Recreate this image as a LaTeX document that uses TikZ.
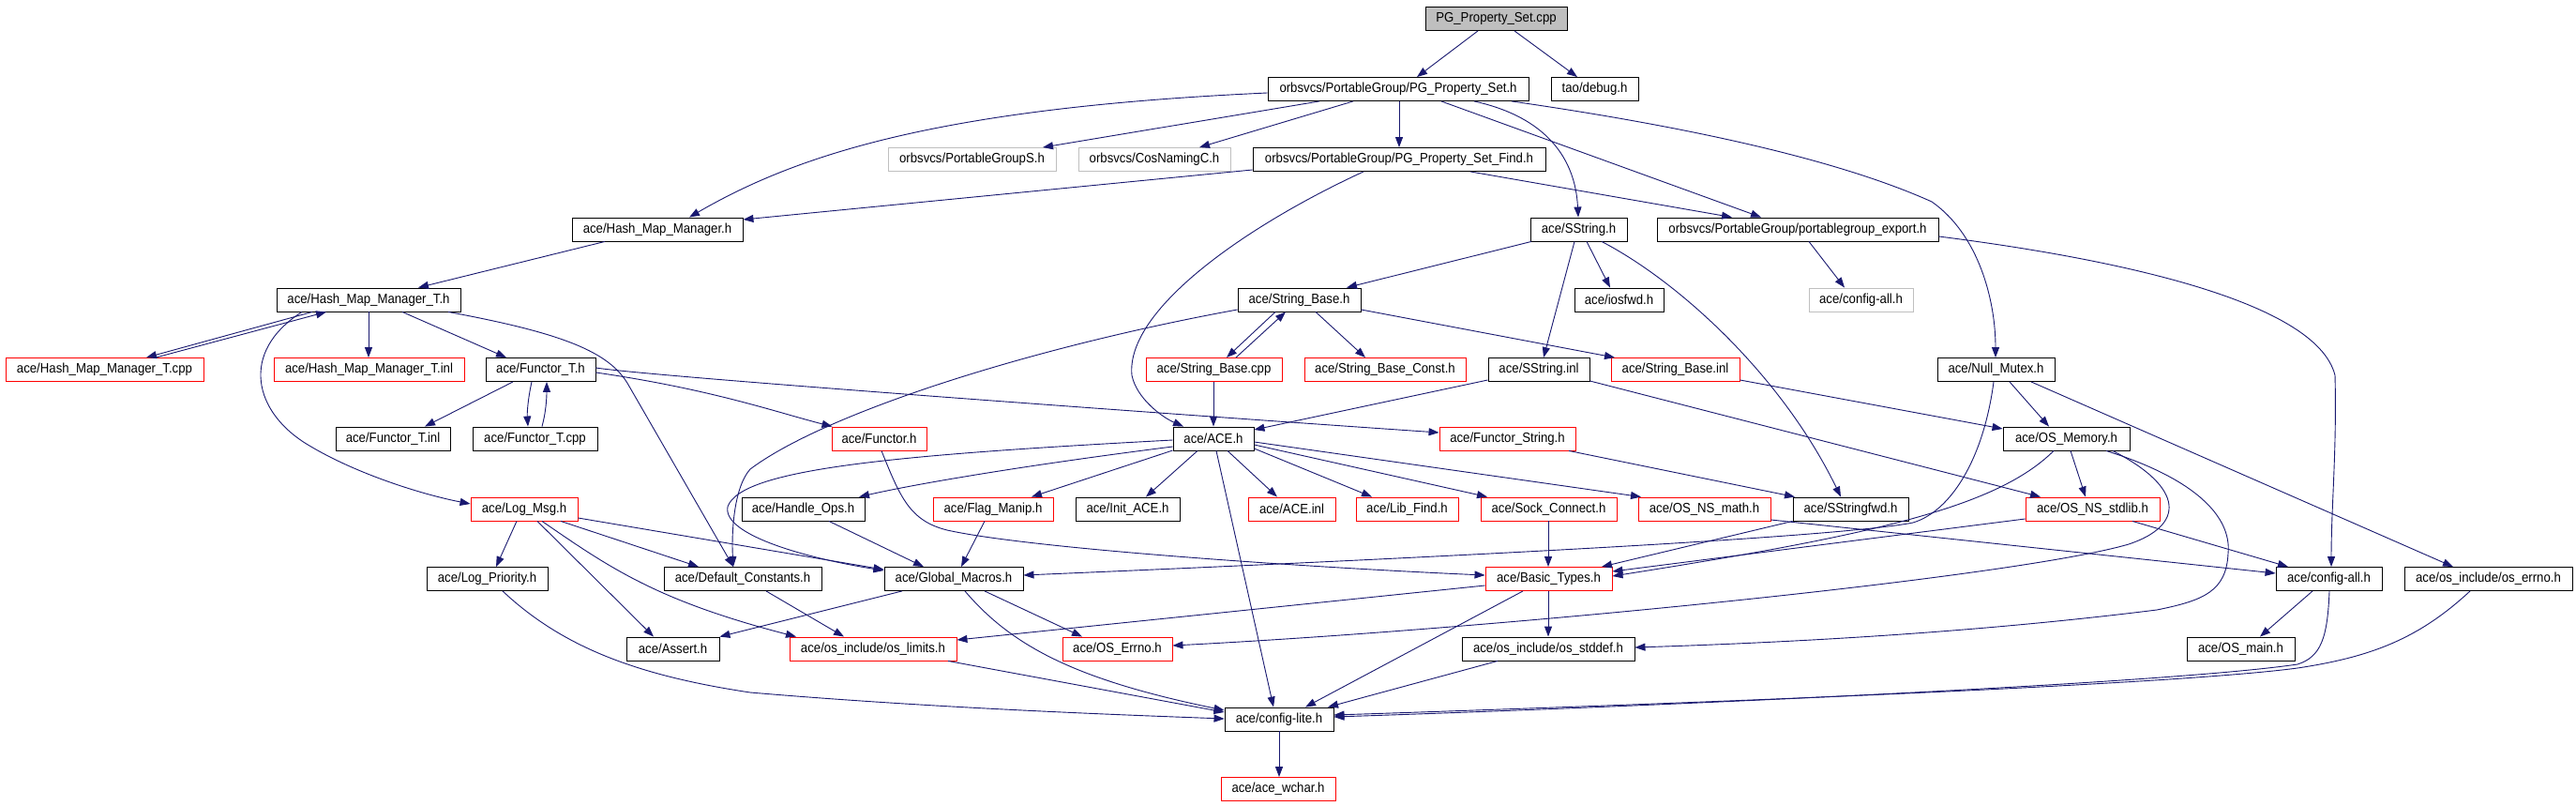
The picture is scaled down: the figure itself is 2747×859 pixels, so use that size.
\documentclass[tikz,border=0pt]{standalone}
\usepackage{fontspec}
\setmainfont{Liberation Sans}[FakeStretch=0.91]
\usetikzlibrary{arrows.meta}
\definecolor{edgeblue}{HTML}{191970}
\definecolor{grey75}{HTML}{BFBFBF}
\newcommand\nodefont{\fontsize{14.5pt}{16pt}\selectfont}
\begin{document}
\begin{tikzpicture}[x=1pt,y=1pt,
  box/.style={draw=black, line width=0.9pt, minimum height=25pt, inner sep=0pt, font=\nodefont, anchor=center},
  redbox/.style={box, draw=red},
  graybox/.style={box, draw=grey75},
  rootbox/.style={box, fill=grey75},
  edge/.style={draw=edgeblue, line width=0.9pt, -{Triangle[length=11pt,width=8pt]}}]
\useasboundingbox[fill=white] (0,0) rectangle (2747,-859);
% row 1-2
\node[rootbox, minimum width=151pt] (pgcpp) at (1595.5,-20) {PG\_Property\_Set.cpp};
\node[box, minimum width=278pt] (pgh) at (1491,-95) {orbsvcs/PortableGroup/PG\_Property\_Set.h};
\node[box, minimum width=93pt] (debug) at (1700.5,-95) {tao/debug.h};
% row 3
\node[graybox, minimum width=179pt] (pgs) at (1036.5,-170) {orbsvcs/PortableGroupS.h};
\node[graybox, minimum width=162pt] (cosn) at (1231,-170) {orbsvcs/CosNamingC.h};
\node[box, minimum width=312pt] (find) at (1492,-170) {orbsvcs/PortableGroup/PG\_Property\_Set\_Find.h};
% row 4
\node[box, minimum width=182pt] (hmm) at (701,-244.5) {ace/Hash\_Map\_Manager.h};
\node[box, minimum width=103pt] (sstr) at (1683.5,-244.5) {ace/SString.h};
\node[box, minimum width=300pt] (export) at (1917,-244.5) {orbsvcs/PortableGroup/portablegroup\_export.h};
% row 5
\node[box, minimum width=196pt] (hmmt) at (393,-319.5) {ace/Hash\_Map\_Manager\_T.h};
\node[box, minimum width=131pt] (sbase) at (1385.5,-319.5) {ace/String\_Base.h};
\node[box, minimum width=95pt] (iosfwd) at (1726.5,-319.5) {ace/iosfwd.h};
\node[graybox, minimum width=111pt] (cfgallg) at (1984.5,-319.5) {ace/config-all.h};
% row 6
\node[redbox, minimum width=211pt] (hmmtcpp) at (111.5,-394) {ace/Hash\_Map\_Manager\_T.cpp};
\node[redbox, minimum width=203pt] (hmmtinl) at (393.5,-394) {ace/Hash\_Map\_Manager\_T.inl};
\node[box, minimum width=117pt] (functh) at (576.5,-394) {ace/Functor\_T.h};
\node[redbox, minimum width=145pt] (sbcpp) at (1294.5,-394) {ace/String\_Base.cpp};
\node[redbox, minimum width=172pt] (sbconst) at (1477,-394) {ace/String\_Base\_Const.h};
\node[box, minimum width=108pt] (sinl) at (1641,-394) {ace/SString.inl};
\node[redbox, minimum width=137pt] (sbinl) at (1786.5,-394) {ace/String\_Base.inl};
\node[box, minimum width=125pt] (nullm) at (2128.5,-394) {ace/Null\_Mutex.h};
% row 7
\node[box, minimum width=122pt] (functinl) at (419,-467.5) {ace/Functor\_T.inl};
\node[box, minimum width=133pt] (functcpp) at (570.5,-467.5) {ace/Functor\_T.cpp};
\node[redbox, minimum width=101pt] (functor) at (937.5,-467.5) {ace/Functor.h};
\node[box, minimum width=86pt] (ace) at (1294,-467.5) {ace/ACE.h};
\node[redbox, minimum width=145pt] (fstring) at (1607.5,-467.5) {ace/Functor\_String.h};
\node[box, minimum width=135pt] (osmem) at (2203.5,-467.5) {ace/OS\_Memory.h};
% row 8
\node[redbox, minimum width=114pt] (logmsg) at (559,-542.5) {ace/Log\_Msg.h};
\node[box, minimum width=131pt] (handle) at (856.5,-542.5) {ace/Handle\_Ops.h};
\node[redbox, minimum width=128pt] (flag) at (1059,-542.5) {ace/Flag\_Manip.h};
\node[box, minimum width=111pt] (init) at (1202.5,-542.5) {ace/Init\_ACE.h};
\node[redbox, minimum width=93pt] (aceinl) at (1377.5,-542.5) {ace/ACE.inl};
\node[redbox, minimum width=109pt] (libfind) at (1500.5,-542.5) {ace/Lib\_Find.h};
\node[redbox, minimum width=145pt] (sock) at (1651.5,-542.5) {ace/Sock\_Connect.h};
\node[redbox, minimum width=141pt] (nsmath) at (1817.5,-542.5) {ace/OS\_NS\_math.h};
\node[box, minimum width=123pt] (sfwd) at (1973.5,-542.5) {ace/SStringfwd.h};
\node[redbox, minimum width=143pt] (nsstdlib) at (2231.5,-542.5) {ace/OS\_NS\_stdlib.h};
% row 9
\node[box, minimum width=129pt] (logpri) at (519.5,-617) {ace/Log\_Priority.h};
\node[box, minimum width=168pt] (defc) at (792,-617) {ace/Default\_Constants.h};
\node[box, minimum width=148pt] (gmac) at (1017,-617) {ace/Global\_Macros.h};
\node[redbox, minimum width=135pt] (btypes) at (1651.5,-617) {ace/Basic\_Types.h};
\node[box, minimum width=113pt] (cfgall) at (2483.5,-617) {ace/config-all.h};
\node[box, minimum width=179pt] (oserrno) at (2653.5,-617) {ace/os\_include/os\_errno.h};
% row 10
\node[box, minimum width=99pt] (assert) at (717.5,-691.5) {ace/Assert.h};
\node[redbox, minimum width=178pt] (oslimits) at (931,-691.5) {ace/os\_include/os\_limits.h};
\node[redbox, minimum width=117pt] (oserr) at (1191.5,-691.5) {ace/OS\_Errno.h};
\node[box, minimum width=184pt] (stddef) at (1651,-691.5) {ace/os\_include/os\_stddef.h};
\node[box, minimum width=115pt] (osmain) at (2389.5,-691.5) {ace/OS\_main.h};
% row 11-12
\node[box, minimum width=116pt] (cfglite) at (1364,-766.5) {ace/config-lite.h};
\node[redbox, minimum width=122pt] (wchar) at (1363,-841) {ace/ace\_wchar.h};
% edges
\draw[edge] (1576,0 |- pgcpp.south) -- (1511,0 |- pgh.north);
\draw[edge] (1615,0 |- pgcpp.south) -- (1682,0 |- debug.north);
\draw[edge] (pgh.west |- 0,-99) .. controls (1000,-115) and (850,-165) .. (735,0 |- hmm.north);
\draw[edge] (1407,0 |- pgh.south) -- (1112,0 |- pgs.north);
\draw[edge] (1443,0 |- pgh.south) -- (1279,0 |- cosn.north);
\draw[edge] (1492,0 |- pgh.south) -- (1492,0 |- find.north);
\draw[edge] (1572,0 |- pgh.south) .. controls (1650,-125) and (1680,-170) .. (1683,0 |- sstr.north);
\draw[edge] (1537,0 |- pgh.south) -- (1878,0 |- export.north);
\draw[edge] (1612,0 |- pgh.south) .. controls (1800,-135) and (1960,-170) .. (2060,-215) .. controls (2110,-250) and (2128,-320) .. (2128,0 |- nullm.north);
\draw[edge] (find.west |- 0,-181) -- (hmm.east |- 0,-234);
\draw[edge] (1568,0 |- find.south) -- (1847,0 |- export.north);
\draw[edge] (1454,0 |- find.south) .. controls (1330,-240) and (1200,-330) .. (1207,-400) .. controls (1212,-425) and (1240,-445) .. (1262,0 |- ace.north);
\draw[edge] (645,0 |- hmm.south) -- (446,0 |- hmmt.north);
\draw[edge] (1633,0 |- sstr.south) -- (1436,0 |- sbase.north);
\draw[edge] (1679,0 |- sstr.south) -- (1646,0 |- sinl.north);
\draw[edge] (1692,0 |- sstr.south) -- (1717,0 |- iosfwd.north);
\draw[edge] (1708,0 |- sstr.south) .. controls (1790,-300) and (1900,-400) .. (1963,0 |- sfwd.north);
\draw[edge] (1929,0 |- export.south) -- (1967,0 |- cfgallg.north);
\draw[edge] (export.east |- 0,-252) .. controls (2250,-275) and (2470,-320) .. (2490,-400) .. controls (2492,-480) and (2486,-540) .. (2486,0 |- cfgall.north);
\draw[edge] (333,0 |- hmmt.south) -- (156,0 |- hmmtcpp.north);
\draw[edge] (166,0 |- hmmtcpp.north) -- (348,0 |- hmmt.south);
\draw[edge] (393,0 |- hmmt.south) -- (393,0 |- hmmtinl.north);
\draw[edge] (429,0 |- hmmt.south) -- (540,0 |- functh.north);
\draw[edge] (478,0 |- hmmt.south) .. controls (600,-355) and (650,-375) .. (670,-410) -- (782,0 |- defc.north);
\draw[edge] (322,0 |- hmmt.south) .. controls (255,-375) and (270,-440) .. (330,-475) .. controls (380,-505) and (450,-527) .. (logmsg.west |- 0,-537);
\draw[edge] (547,0 |- functh.south) -- (453,0 |- functinl.north);
\draw[edge] (567,0 |- functh.south) .. controls (563,-425) and (562,-440) .. (563,0 |- functcpp.north);
\draw[edge] (578,0 |- functcpp.north) .. controls (582,-440) and (583,-425) .. (583,0 |- functh.south);
\draw[edge] (functh.east |- 0,-397) .. controls (760,-415) and (830,-440) .. ([xshift=1pt]functor.north west);
\draw[edge] (functh.east |- 0,-392) .. controls (700,-402) and (1300,-445) .. (fstring.west |- 0,-461);
\draw[edge] (1360,0 |- sbase.south) -- (1308,0 |- sbcpp.north);
\draw[edge] (1318,0 |- sbcpp.north) -- (1371,0 |- sbase.south);
\draw[edge] (1403,0 |- sbase.south) -- (1456,0 |- sbconst.north);
\draw[edge] (sbase.east |- 0,-330) -- (1722,0 |- sbinl.north);
\draw[edge] (sbase.west |- 0,-330) .. controls (1100,-370) and (880,-440) .. (800,-500) .. controls (782,-520) and (780,-570) .. (782,0 |- defc.north);
\draw[edge] (ace.west |- 0,-469) .. controls (950,-485) and (790,-500) .. (776,-540) .. controls (770,-570) and (860,-595) .. (gmac.west |- 0,-608);
\draw[edge] (1294,0 |- sbcpp.south) -- (1294,0 |- ace.north);
\draw[edge] (sbinl.east |- 0,-405) -- (osmem.west |- 0,-457);
\draw[edge] (sinl.west |- 0,-405) -- (ace.east |- 0,-458);
\draw[edge] (sinl.east |- 0,-406) -- (2176,0 |- nsstdlib.north);
\draw[edge] (2143,0 |- nullm.south) -- (2185,0 |- osmem.north);
\draw[edge] (2166,0 |- nullm.south) -- (2616,0 |- oserrno.north);
\draw[edge] (2126,0 |- nullm.south) .. controls (2115,-490) and (2080,-545) .. (2040,-557) .. controls (1950,-575) and (1400,-600) .. (gmac.east |- 0,-613);
\draw[edge] (ace.west |- 0,-476) .. controls (1100,-495) and (980,-515) .. (916,0 |- handle.north);
\draw[edge] (ace.west |- 0,-480) -- (1100,0 |- flag.north);
\draw[edge] (1277,0 |- ace.south) -- (1222,0 |- init.north);
\draw[edge] (1309,0 |- ace.south) -- (1362,0 |- aceinl.north);
\draw[edge] (ace.east |- 0,-478) -- (1463,0 |- libfind.north);
\draw[edge] (ace.east |- 0,-474) -- (1586,0 |- sock.north);
\draw[edge] (ace.east |- 0,-471) -- (1750,0 |- nsmath.north);
\draw[edge] (1297,0 |- ace.south) -- (1358,0 |- cfglite.north);
\draw[edge] (1673,0 |- fstring.south) -- (1914,0 |- sfwd.north);
\draw[edge] (1651,0 |- sock.south) -- (1651,0 |- btypes.north);
\draw[edge] (sfwd.south west) -- (1708,0 |- btypes.north);
\draw[edge] (nsstdlib.west |- 0,-553) -- (btypes.east |- 0,-609);
\draw[edge] (2190,0 |- osmem.south) .. controls (2130,-540) and (2000,-570) .. (btypes.east |- 0,-614);
\draw[edge] (2208,0 |- osmem.south) -- (2224,0 |- nsstdlib.north);
\draw[edge] (2253,0 |- osmem.south) .. controls (2330,-520) and (2330,-560) .. (2270,-580) .. controls (2150,-615) and (1600,-670) .. (oserr.east |- 0,-688);
\draw[edge] (2246,0 |- osmem.south) .. controls (2340,-510) and (2380,-550) .. (2376,-590) .. controls (2374,-630) and (2350,-640) .. (2300,-650) .. controls (2100,-675) and (1900,-685) .. (stddef.east |- 0,-690);
\draw[edge] (nsmath.east |- 0,-554) -- (cfgall.west |- 0,-611);
\draw[edge] (2274,0 |- nsstdlib.south) -- (2440,0 |- cfgall.north);
\draw[edge] (2466,0 |- cfgall.south) -- (2410,0 |- osmain.north);
\draw[edge] (2484,0 |- cfgall.south) .. controls (2482,-680) and (2475,-700) .. (2450,-708) .. controls (2300,-730) and (1700,-755) .. (cfglite.east |- 0,-764);
\draw[edge] (2634,0 |- oserrno.south) .. controls (2580,-680) and (2530,-700) .. (2450,-712) .. controls (2300,-732) and (1700,-753) .. (cfglite.east |- 0,-762);
\draw[edge] (551,0 |- logmsg.south) -- (529,0 |- logpri.north);
\draw[edge] (573,0 |- logmsg.south) -- (697,0 |- assert.north);
\draw[edge] (578,0 |- logmsg.south) .. controls (650,-605) and (700,-640) .. (849,0 |- oslimits.north);
\draw[edge] (598,0 |- logmsg.south) -- (745,0 |- defc.north);
\draw[edge] (logmsg.east |- 0,-552) -- (gmac.west |- 0,-607);
\draw[edge] (536,0 |- logpri.south) .. controls (600,-690) and (680,-720) .. (800,-738) .. controls (1000,-755) and (1200,-762) .. (cfglite.west |- 0,-766);
\draw[edge] (817,0 |- defc.south) -- (900,0 |- oslimits.north);
\draw[edge] (962,0 |- gmac.south) -- (assert.north east);
\draw[edge] (1050,0 |- gmac.south) -- (1154,0 |- oserr.north);
\draw[edge] (1029,0 |- gmac.south) .. controls (1080,-690) and (1150,-725) .. (cfglite.west |- 0,-757);
\draw[edge] (1011,0 |- oslimits.south) -- (cfglite.west |- 0,-759);
\draw[edge] (884,0 |- handle.south) -- (985,0 |- gmac.north);
\draw[edge] (1050,0 |- flag.south) -- (1025,0 |- gmac.north);
\draw[edge] (940,0 |- functor.south) .. controls (960,-530) and (970,-555) .. (1010,-565) .. controls (1100,-585) and (1400,-605) .. (btypes.west |- 0,-613);
\draw[edge] (btypes.west |- 0,-624) -- (oslimits.east |- 0,-682);
\draw[edge] (1651,0 |- btypes.south) -- (1651,0 |- stddef.north);
\draw[edge] (1624,0 |- btypes.south) -- (1392,0 |- cfglite.north);
\draw[edge] (1597,0 |- stddef.south) -- (1416,0 |- cfglite.north);
\draw[edge] (1364,0 |- cfglite.south) -- (1364,0 |- wchar.north);
\end{tikzpicture}
\end{document}
